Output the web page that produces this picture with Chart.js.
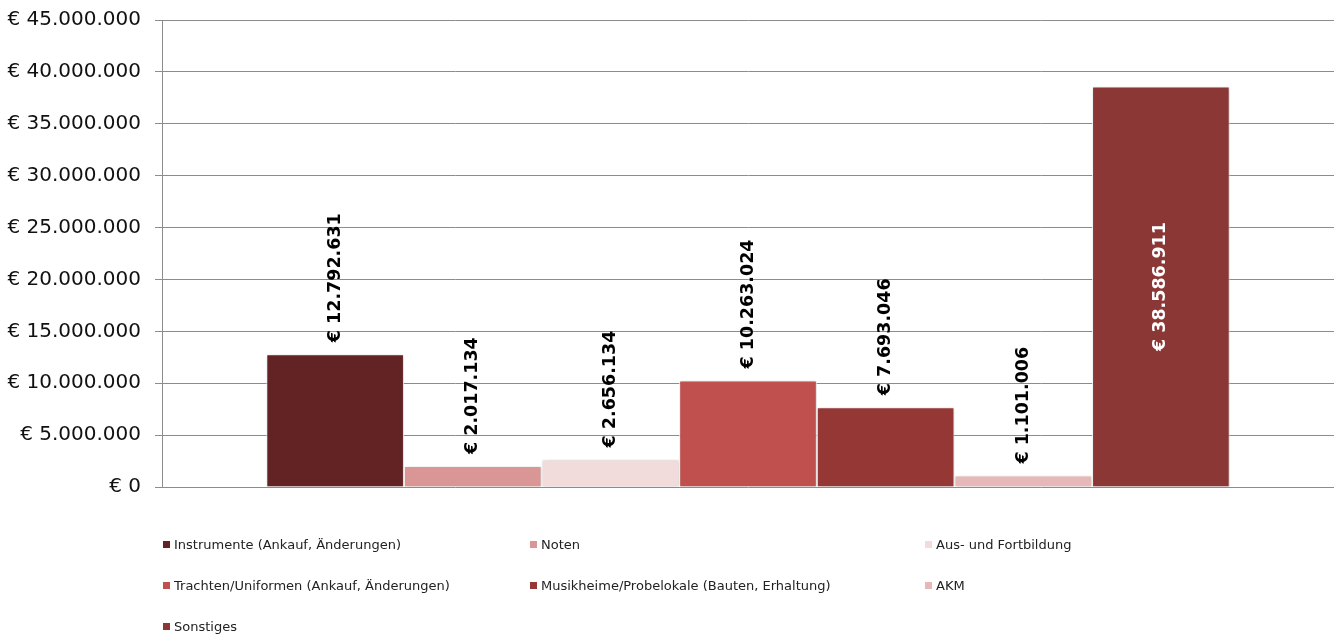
<!DOCTYPE html>
<html>
<head>
<meta charset="utf-8">
<script src="https://cdn.jsdelivr.net/npm/chart.js@4.4.1/dist/chart.umd.min.js"></script>
<style>
  html, body { margin: 0; padding: 0; background: #fff; }
  .wrap { position: relative; width: 1341px; height: 636px; }
  #foerderChart { position: absolute; left: 0; top: 0; }
  .legend {
    position: absolute; left: 163px; top: 536px;
    display: grid; grid-template-columns: 367px 395px 300px;
    row-gap: 24px;
    font-family: "DejaVu Sans", sans-serif; font-size: 13px; color: #222;
  }
  .legend div { display: flex; align-items: center; height: 17px; white-space: nowrap; }
  .legend span { display: inline-block; width: 7px; height: 7px; margin-right: 4px; }
</style>
</head>
<body>
<div class="wrap">
  <canvas id="foerderChart" width="1341" height="636"></canvas>
  <div class="legend" id="legend"></div>
</div>
<script>
const categories = [""];
const seriesNames = [
  "Instrumente (Ankauf, Änderungen)",
  "Noten",
  "Aus- und Fortbildung",
  "Trachten/Uniformen (Ankauf, Änderungen)",
  "Musikheime/Probelokale (Bauten, Erhaltung)",
  "AKM",
  "Sonstiges",
];
const seriesValues = [12792631, 2017134, 2656134, 10263024, 7693046, 1101006, 38586911];
const seriesColors = ["#632325", "#D99694", "#F2DCDB", "#C0504D", "#953735", "#E6B9B8", "#8A3735"];
const yTicks = [0, 5000000, 10000000, 15000000, 20000000, 25000000, 30000000, 35000000, 40000000, 45000000];

const euro = (v) => "€ " + String(Math.round(v)).replace(/\B(?=(\d{3})+(?!\d))/g, ".");

// value labels, rotated, above the bar or inside when there is no room
const barLabels = {
  id: "barLabels",
  beforeDatasetsDraw(chart) {
    const ctx = chart.ctx;
    ctx.save();
    ctx.shadowColor = "rgba(0,0,0,0.22)";
    ctx.shadowBlur = 4;
    ctx.shadowOffsetX = 1;
    ctx.shadowOffsetY = 1;
  },
  afterDatasetsDraw(chart) {
    const ctx = chart.ctx;
    ctx.restore();
    ctx.save();
    ctx.font = "bold 17.5px 'DejaVu Sans', sans-serif";
    ctx.textBaseline = "middle";
    chart.data.datasets.forEach((ds, i) => {
      const bar = chart.getDatasetMeta(i).data[0];
      const text = euro(ds.data[0]);
      const w = ctx.measureText(text).width;
      ctx.save();
      if (bar.y - chart.chartArea.top > w + 16) {
        ctx.translate(bar.x, bar.y - 12);
        ctx.rotate(-Math.PI / 2);
        ctx.textAlign = "left";
        ctx.fillStyle = "#000";
      } else {
        ctx.translate(bar.x, (bar.y + bar.base) / 2);
        ctx.rotate(-Math.PI / 2);
        ctx.textAlign = "center";
        ctx.fillStyle = "#fff";
      }
      ctx.fillText(text, 0, 0);
      ctx.restore();
    });
    ctx.restore();
  },
};

const chart = new Chart(document.getElementById("foerderChart"), {
  type: "bar",
  data: {
    labels: categories,
    datasets: seriesNames.map((name, i) => ({
      label: name,
      data: [seriesValues[i]],
      backgroundColor: seriesColors[i],
      borderColor: "#ffffff",
      borderWidth: 1,
      categoryPercentage: 0.822,
      barPercentage: 1.0,
    })),
  },
  options: {
    responsive: false,
    animation: false,
    layout: { padding: { top: 20, right: 7, bottom: 149, left: 0 } },
    plugins: {
      legend: { display: false },
      tooltip: { enabled: false },
    },
    scales: {
      x: { display: false },
      y: {
        min: 0,
        max: 45000000,
        afterFit: (scale) => {
          scale.width = 162;
          scale.paddingTop = 0;
          scale.paddingBottom = 0;
        },
        afterBuildTicks: (scale) => { scale.ticks = yTicks.map((v) => ({ value: v })); },
        border: { display: true, color: "#8c8c8c", width: 1 },
        grid: { color: "#8c8c8c", lineWidth: 1, tickLength: 7, drawTicks: true },
        ticks: {
          padding: 14,
          color: "#111",
          font: { family: "'DejaVu Sans', sans-serif", size: 20 },
          callback: (v) => euro(v),
        },
      },
    },
  },
  plugins: [barLabels],
});

// legend in three columns like the original
const legendEl = document.getElementById("legend");
chart.data.datasets.forEach((ds) => {
  const item = document.createElement("div");
  const box = document.createElement("span");
  box.style.background = ds.backgroundColor;
  item.appendChild(box);
  item.appendChild(document.createTextNode(ds.label));
  legendEl.appendChild(item);
});
</script>
</body>
</html>
